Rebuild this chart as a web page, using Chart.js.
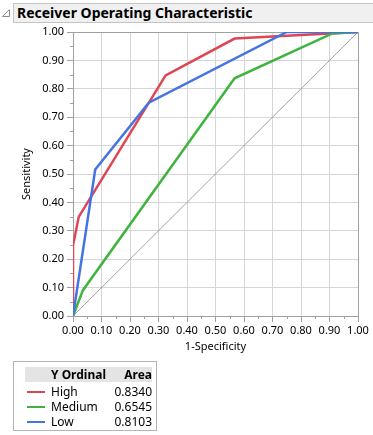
<!DOCTYPE html>
<html>
<head>
<meta charset="utf-8">
<script src="https://cdn.jsdelivr.net/npm/chart.js@4"></script>
<style>
  html, body { margin: 0; padding: 0; background: #fff; }
  body { width: 373px; height: 435px; position: relative; overflow: hidden; font-family: "Noto Sans", sans-serif; }
  #roc { position: absolute; left: 0; top: 0; }
  .title-bar {
    position: absolute; left: 13px; top: 3px; width: 362px; height: 18px;
    background: #f0f0f0; border: 1px solid #c4c4c4;
    font-weight: bold; font-size: 14px; line-height: 18px; color: #000;
    padding-left: 3px; box-sizing: content-box;
  }
  .twisty { position: absolute; left: 1px; top: 8px; }
  .legend-box {
    position: absolute; left: 13px; top: 361px; width: 142px; height: 68px;
    border: 1px solid #b4b4b4; font-size: 12px; color: #000;
  }
  .legend-head {
    position: absolute; left: 11px; top: 5px; width: 127px; height: 15px; background: #e4e4e4;
  }
  .cell { position: absolute; line-height: 15px; white-space: nowrap; }
  .swatch { position: absolute; left: 13px; width: 18px; height: 2px; }
</style>
</head>
<body>
<svg class="twisty" width="10" height="10"><polygon points="1.5,8.5 8.5,8.5 8.5,1.5" fill="#fff" stroke="#8c8c8c"/></svg>
<div class="title-bar">Receiver Operating Characteristic</div>
<canvas id="roc" width="373" height="435"></canvas>
<div class="legend-box" id="legend"></div>

<script>
// ROC curves
const xHigh = [0, 0, 0.02, 0.325, 0.567, 1];
const yHigh = [0, 0.248, 0.349, 0.847, 0.977, 1];
const xMedium = [0, 0.035, 0.567, 0.91, 1];
const yMedium = [0, 0.091, 0.837, 0.995, 1];
const xLow = [0, 0.078, 0.266, 0.75, 1];
const yLow = [0, 0.516, 0.751, 1, 1];

const seriesNames = ["High", "Medium", "Low"];
const areaValues = ["0.8340", "0.6545", "0.8103"];
const seriesColors = ["#dd4652", "#3eb43e", "#4473e2"];

function toPoints(xs, ys) {
  return xs.map((x, i) => ({ x: x, y: ys[i] }));
}

// tabel legenda di bawah grafik
const legend = document.getElementById("legend");
legend.innerHTML =
  '<div class="legend-head"></div>' +
  '<div class="cell" style="left:37px;top:5px;font-weight:bold">Y Ordinal</div>' +
  '<div class="cell" style="right:4px;top:5px;font-weight:bold">Area</div>';
seriesNames.forEach((name, i) => {
  const top = 22 + i * 15;
  legend.innerHTML +=
    '<div class="swatch" style="top:' + (top + 7) + 'px;background:' + seriesColors[i] + '"></div>' +
    '<div class="cell" style="left:37px;top:' + top + 'px">' + name + '</div>' +
    '<div class="cell" style="right:4px;top:' + top + 'px">' + areaValues[i] + '</div>';
});

// bingkai + tick kecil (minor) di sumbu
const framePlugin = {
  id: "frame",
  beforeDatasetsDraw(chart) {
    const { ctx, chartArea: a, scales } = chart;
    ctx.save();
    ctx.strokeStyle = "#a0a0a0";
    ctx.lineWidth = 1;
    ctx.beginPath();
    ctx.moveTo(a.left + 0.5, a.top + 0.5);
    ctx.lineTo(a.right + 0.5, a.top + 0.5);
    ctx.lineTo(a.right + 0.5, a.bottom + 0.5);
    ctx.stroke();
    ctx.beginPath();
    for (let v = 0.05; v < 1; v += 0.1) {
      const px = Math.round(scales.x.getPixelForValue(v)) + 0.5;
      ctx.moveTo(px, a.bottom);
      ctx.lineTo(px, a.bottom + 3);
      const py = Math.round(scales.y.getPixelForValue(v)) + 0.5;
      ctx.moveTo(a.left, py);
      ctx.lineTo(a.left - 3, py);
    }
    ctx.stroke();
    ctx.restore();
  },
};

const axisFont = { family: "Noto Sans", size: 11 };

const rocChart = new Chart(document.getElementById("roc").getContext("2d"), {
  type: "scatter",
  data: {
    datasets: [
      {
        label: "High",
        data: toPoints(xHigh, yHigh),
        borderColor: seriesColors[0],
        order: 3,
      },
      {
        label: "Medium",
        data: toPoints(xMedium, yMedium),
        borderColor: seriesColors[1],
        order: 2,
      },
      {
        label: "Low",
        data: toPoints(xLow, yLow),
        borderColor: seriesColors[2],
        order: 1,
      },
      {
        label: "diagonal",
        data: toPoints([0, 1], [0, 1]),
        borderColor: "#8a8a8a",
        borderWidth: 0.8,
        order: 10,
      },
    ],
  },
  options: {
    responsive: false,
    animation: false,
    datasets: {
      scatter: { showLine: true, pointRadius: 0, borderWidth: 2.5, tension: 0 },
    },
    layout: { padding: { left: 0, top: 32, right: 15, bottom: 79 } },
    scales: {
      x: {
        type: "linear",
        min: 0,
        max: 1,
        afterFit(scale) { scale.height = 40; },
        ticks: {
          stepSize: 0.1,
          autoSkip: false,
          maxRotation: 0,
          padding: 2,
          color: "#000",
          font: axisFont,
          callback: (v) => v.toFixed(2),
        },
        grid: { color: "#d6d6d6", tickColor: "#a0a0a0", tickLength: 6 },
        border: { color: "#a0a0a0" },
        title: {
          display: true,
          text: "1-Specificity",
          color: "#000",
          font: axisFont,
          padding: { top: 0, bottom: 3 },
        },
      },
      y: {
        type: "linear",
        min: 0,
        max: 1,
        afterFit(scale) { scale.width = 73; },
        ticks: {
          stepSize: 0.1,
          autoSkip: false,
          padding: 3,
          color: "#000",
          font: axisFont,
          callback: (v) => v.toFixed(2),
        },
        grid: { color: "#d6d6d6", tickColor: "#a0a0a0", tickLength: 6 },
        border: { color: "#a0a0a0" },
        title: {
          display: true,
          text: "Sensitivity",
          color: "#000",
          font: axisFont,
          padding: { top: 20, bottom: 0 },
        },
      },
    },
    plugins: {
      legend: { display: false },
      tooltip: { enabled: false },
    },
  },
  plugins: [framePlugin],
});
</script>
</body>
</html>
